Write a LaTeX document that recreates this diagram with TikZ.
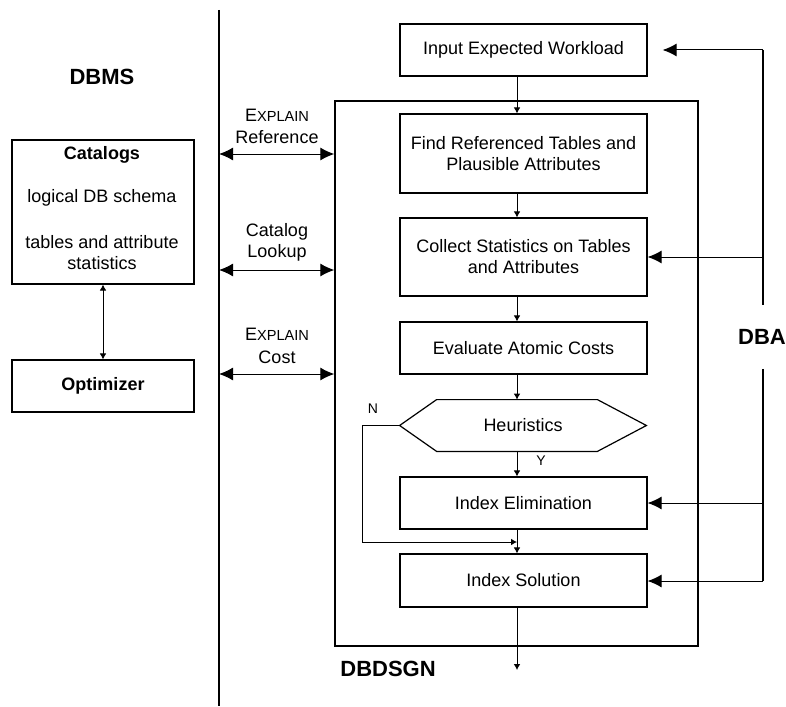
\documentclass[tikz,border=0pt]{standalone}
\usepackage{fontspec}
\setmainfont{Liberation Sans}
\usetikzlibrary{arrows.meta}
\newcommand\explainword{E{\fontsize{7.3}{8}\selectfont XPLAIN}}
\begin{document}
\begin{tikzpicture}[x=0.5pt,y=-0.5pt,
  txt/.style={font=\fontsize{9}{10.5}\selectfont, inner sep=0pt, align=center},
  title/.style={font=\fontsize{11}{13}\selectfont\bfseries, inner sep=0pt},
  tiny/.style={font=\fontsize{7}{8}\selectfont, inner sep=0pt},
  box/.style={txt, draw, line width=0.6pt, minimum width=123.5pt},
  lbox/.style={txt, draw, line width=0.6pt, minimum width=91pt},
  flow/.style={-{Latex[length=3pt,width=3.4pt]}, line width=0.5pt},
  flowboth/.style={{Latex[length=3pt,width=3.4pt]}-{Latex[length=3pt,width=3.4pt]}, line width=0.5pt},
  big/.style={-{Latex[length=7pt,width=6.5pt]}, line width=0.5pt},
  bigboth/.style={{Latex[length=7pt,width=6.5pt]}-{Latex[length=7pt,width=6.5pt]}, line width=0.5pt}]
\useasboundingbox (0,0) rectangle (786,706);

% ---- DBMS side ----
\node[title] (dbms) at (102,77) {DBMS};
\node[lbox, minimum height=72pt] (cat) at (103,212) {};
\node[txt, font=\fontsize{9}{10.5}\selectfont\bfseries] (catT) at (102,155) {Catalogs};
\node[txt] (catL) at (102,198) {logical DB schema};
\node[txt] (catS) at (102,253) {tables and attribute\\statistics};
\node[lbox, minimum height=26pt, font=\fontsize{9}{10.5}\selectfont\bfseries] (opt) at (103,386) {Optimizer};
\draw[flowboth] (cat.south) -- (opt.north);

% ---- divider ----
\coordinate (divT) at (219,10);
\coordinate (divB) at (219,706);
\draw[line width=0.8pt] (divT) -- (divB);

% ---- DBDSGN frame ----
\node[draw, line width=0.7pt, minimum width=181.5pt, minimum height=272.5pt, inner sep=0pt] (dbd) at (516.5,373.5) {};
\node[title, anchor=west] (dbdT) at (340,669) {DBDSGN};

% ---- interface arrows ----
\coordinate (r1) at (0,154);
\coordinate (r2) at (0,270);
\coordinate (r3) at (0,374);
\draw[bigboth] (divT |- r1) -- (dbd.west |- r1);
\draw[bigboth] (divT |- r2) -- (dbd.west |- r2);
\draw[bigboth] (divT |- r3) -- (dbd.west |- r3);
\node[txt] (l1a) at (277,115) {\explainword};
\node[txt] (l1b) at (277,137) {Reference};
\node[txt] (l2a) at (277,232) {Catalog};
\node[txt] (l2b) at (277,253) {Lookup};
\node[txt] (l3a) at (277,334) {\explainword};
\node[txt] (l3b) at (277,357) {Cost};

% ---- design steps ----
\node[box, minimum height=26pt]   (inp)  at (523.5,50)    {Input Expected Workload};
\node[box, minimum height=39.5pt] (find) at (523.5,153.5) {Find Referenced Tables and\\Plausible Attributes};
\node[box, minimum height=39pt]   (coll) at (523.5,257)   {Collect Statistics on Tables\\and Attributes};
\node[box, minimum height=26pt]   (eval) at (523.5,348)   {Evaluate Atomic Costs};
\node[txt, minimum width=123pt, minimum height=25.5pt] (heur) at (523,425.5) {Heuristics};
\draw[line width=0.6pt] (heur.west) -- ([xshift=18.5pt]heur.north west) -- ([xshift=-24.5pt]heur.north east)
  -- (heur.east) -- ([xshift=-24.5pt]heur.south east) -- ([xshift=18.5pt]heur.south west) -- cycle;
\node[box, minimum height=26pt]   (elim) at (523.5,503)   {Index Elimination};
\node[box, minimum height=26.5pt] (sol)  at (523.5,580.5) {Index Solution};

% ---- flow ----
\coordinate (ax) at (517,0);
\draw[flow] (inp.south -| ax) -- (find.north -| ax);
\draw[flow] (find.south -| ax) -- (coll.north -| ax);
\draw[flow] (coll.south -| ax) -- (eval.north -| ax);
\draw[flow] (eval.south -| ax) -- (heur.north -| ax);
\draw[flow] (heur.south -| ax) -- (elim.north -| ax);
\draw[flow] (elim.south -| ax) -- (sol.north -| ax);
\coordinate (nc) at (362,542);
\draw[flow] (heur.west) -| (nc) -- (nc -| ax);
\node[tiny] (ylab) at (541,461) {Y};
\node[tiny] (nlab) at (373,409) {N};
\coordinate (out) at (517,670);
\draw[flow] (sol.south -| ax) -- (out);

% ---- DBA ----
\node[title, minimum height=31.5pt] (dba) at (762,337) {DBA};
\coordinate (dbaT) at (763,50);
\coordinate (dbaB) at (763,581);
\draw[line width=0.6pt] (dbaT) -- (dbaT |- dba.north);
\draw[line width=0.6pt] (dba.south -| dbaB) -- (dbaB);
\draw[big] (dbaT) -- ([xshift=7.5pt]inp.east);
\draw[big] (coll.east -| dbaT) -- (coll.east);
\draw[big] (elim.east -| dbaT) -- (elim.east);
\draw[big] (dbaB) -- (sol.east |- dbaB);
\end{tikzpicture}
\end{document}
